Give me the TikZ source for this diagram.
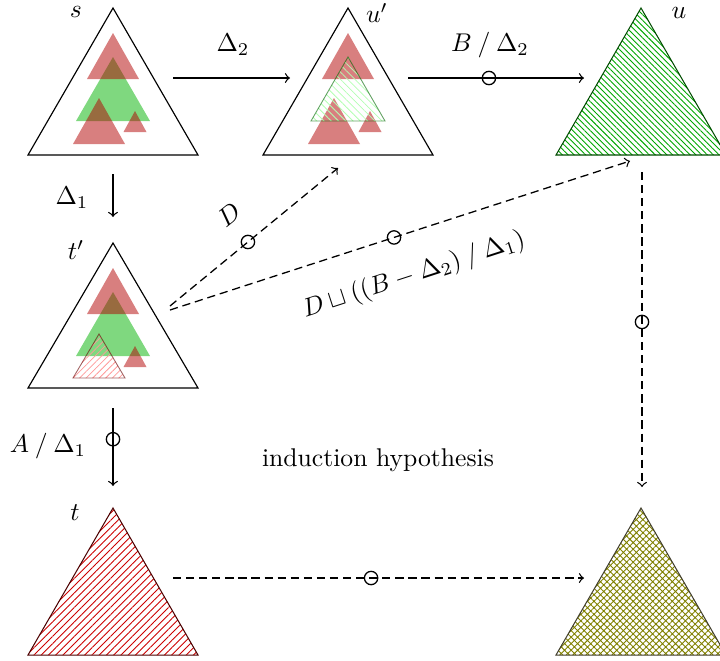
\documentclass[tikz,border=0pt]{standalone}
\usetikzlibrary{patterns,patterns.meta}
\begin{document}
\begin{tikzpicture}[x=0.39pt,y=-0.39pt,
  outer/.style={draw=black, line width=0.45pt},
  redt/.style={fill=red!70!black, fill opacity=0.5},
  greent/.style={fill=green!70!black, fill opacity=0.5},
  conn/.style={->, line width=0.5pt},
  dconn/.style={conn, dash pattern=on 3.2pt off 1.9pt},
  mk/.style={circle, draw, solid, line width=0.5pt, inner sep=0pt, minimum size=5.2pt},
  lbl/.style={inner sep=0pt}]
\clip (0,0) rectangle (720,660);
\useasboundingbox (0,0) rectangle (720,660);

% ---------- s ----------
\begin{scope}[shift={(113,8)}]
  \draw[outer] (0,0) -- (-85,147) -- (85,147) -- cycle;
  \fill[greent] (0,49) -- (-37,113) -- (37,113) -- cycle;
  \fill[redt] (0,25) -- (-26,71) -- (26,71) -- cycle;
  \fill[redt] (-14,90) -- (-40,136) -- (12,136) -- cycle;
  \fill[redt] (22,103) -- (10.5,124) -- (33.5,124) -- cycle;
\end{scope}
\node[lbl] (ls) at (76,12) {$s$};

% ---------- u' ----------
\begin{scope}[shift={(348,8)}]
  \draw[outer] (0,0) -- (-85,147) -- (85,147) -- cycle;
  \fill[redt] (0,25) -- (-26,71) -- (26,71) -- cycle;
  \fill[redt] (-14,90) -- (-40,136) -- (12,136) -- cycle;
  \fill[redt] (22,103) -- (10.5,124) -- (33.5,124) -- cycle;
  \path[pattern={Lines[angle=-45,distance=2pt,line width=0.3pt]}, pattern color=green!30]
     (0,49) -- (-37,113) -- (37,113) -- cycle;
  \draw[draw=green!40!black, draw opacity=0.6, line width=0.35pt]
     (0,49) -- (-37,113) -- (37,113) -- cycle;
\end{scope}
\node[lbl] (lu') at (377,13) {$u'$};

% ---------- u ----------
\begin{scope}[shift={(641,8)}]
  \path[pattern={Lines[angle=-45,distance=1.6pt,line width=0.35pt]}, pattern color=green!65!black]
     (0,0) -- (-85,147) -- (85,147) -- cycle;
  \draw[draw=green!30!black, line width=0.4pt] (0,0) -- (-85,147) -- (85,147) -- cycle;
\end{scope}
\node[lbl] (lu) at (679,13) {$u$};

% ---------- t' ----------
\begin{scope}[shift={(113,243)}]
  \draw[outer] (0,0) -- (-85,145) -- (85,145) -- cycle;
  \fill[greent] (0,49) -- (-37,113) -- (37,113) -- cycle;
  \fill[redt] (0,25) -- (-26,71) -- (26,71) -- cycle;
  \fill[redt] (22,103) -- (10.5,124) -- (33.5,124) -- cycle;
  \path[pattern={Lines[angle=45,distance=1.8pt,line width=0.3pt]}, pattern color=red!40]
     (-14,91) -- (-40,135) -- (12,135) -- cycle;
  \draw[draw=red!40!black, draw opacity=0.6, line width=0.35pt]
     (-14,91) -- (-40,135) -- (12,135) -- cycle;
\end{scope}
\node[lbl] (lt') at (76,250) {$t'$};

% ---------- t ----------
\begin{scope}[shift={(113,508)}]
  \path[pattern={Lines[angle=45,distance=2pt,line width=0.35pt]}, pattern color=red!80!black]
     (0,0) -- (-85,147) -- (85,147) -- cycle;
  \draw[draw=red!30!black, line width=0.4pt] (0,0) -- (-85,147) -- (85,147) -- cycle;
\end{scope}
\node[lbl] (lt) at (75,513) {$t$};

% ---------- bottom right ----------
\begin{scope}[shift={(641,508)}]
  \path[pattern={Hatch[angle=45,distance=1.8pt,line width=0.35pt]}, pattern color=olive]
     (0,0) -- (-85,147) -- (85,147) -- cycle;
  \draw[draw=olive!30!black, line width=0.4pt] (0,0) -- (-85,147) -- (85,147) -- cycle;
\end{scope}

% ---------- connector ends ----------
\coordinate (s-e) at (173,78);   \coordinate (up-w) at (290,78);
\coordinate (up-e) at (408,78);  \coordinate (u-w) at (584,78);
\coordinate (s-s) at (113,174);  \coordinate (tp-n) at (113,217);
\coordinate (tp-s) at (113,408); \coordinate (t-n) at (113,486);
\coordinate (tp-e1) at (170,306); \coordinate (up-sw) at (338,168);
\coordinate (tp-e2) at (170,310); \coordinate (u-sw) at (630,161);
\coordinate (u-s) at (642,172);  \coordinate (br-n) at (642,487);
\coordinate (t-e) at (173,578);  \coordinate (br-w) at (584,578);

% ---------- connectors ----------
\draw[conn] (s-e) -- (up-w);
\draw[conn] (up-e) -- node[mk,pos=0.46] (m1) {} (u-w);
\draw[conn] (s-s) -- (tp-n);
\draw[conn] (tp-s) -- node[mk,pos=0.40] (m2) {} (t-n);
\draw[dconn] (tp-e1) -- node[mk,pos=0.464] (m3) {} (up-sw);
\draw[dconn] (tp-e2) -- node[mk,pos=0.487] (m4) {} (u-sw);
\draw[dconn] (u-s) -- node[mk,pos=0.476] (m5) {} (br-n);
\draw[dconn] (t-e) -- node[mk,pos=0.482] (m6) {} (br-w);

% ---------- labels ----------
\node[lbl] (d2) at (233,45) {$\Delta_2$};
\node[lbl] (bd2) at (490,45) {$B \mathbin{/} \Delta_2$};
\node[lbl] (d1) at (72,198) {$\Delta_1$};
\node[lbl] (ad1) at (48,446) {$A \mathbin{/} \Delta_1$};
\node[lbl, rotate=39] (dl) at (229,215) {$D$};
\node[lbl, rotate=18] (dlong) at (414,275) {$D \sqcup ((B - \Delta_2) \mathbin{/} \Delta_1)$};
\node[lbl] (ih) at (378,460) {induction hypothesis};
\end{tikzpicture}
\end{document}
